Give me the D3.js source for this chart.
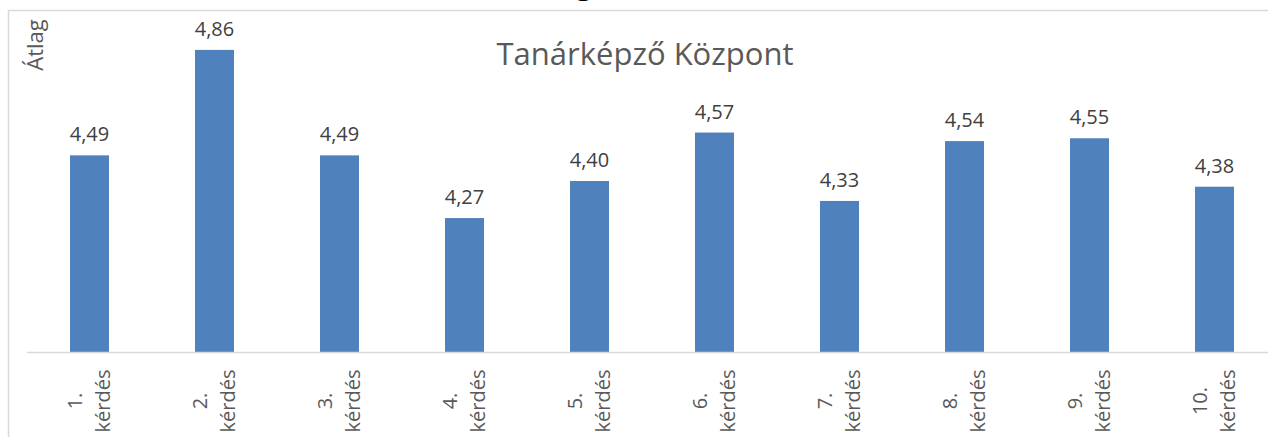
<!DOCTYPE html>
<html lang="hu">

<head>
    <meta charset="UTF-8" />
    <title>Tanárképző Központ - átlag</title>
    <script src="https://d3js.org/d3.v7.min.js"></script>
    <style>
        body { margin: 0; background: #fff; }
        text { font-family: "Open Sans", sans-serif; }
    </style>
</head>

<body>
    <script>
        // chart data
        var categories = ["1. kérdés", "2. kérdés", "3. kérdés", "4. kérdés", "5. kérdés",
            "6. kérdés", "7. kérdés", "8. kérdés", "9. kérdés", "10. kérdés"];
        var values = [4.49, 4.86, 4.49, 4.27, 4.40, 4.57, 4.33, 4.54, 4.55, 4.38];
        var yDomain = [3.8, 5.0];

        var w = 1268;
        var h = 437;
        var baseY = 352;

        var svg = d3.select("body")
            .append("svg")
            .attr("width", w)
            .attr("height", h);

        // tail of the heading cut off above the chart
        svg.append("text")
            .attr("x", 584)
            .attr("y", -6)
            .attr("text-anchor", "middle")
            .attr("font-size", "30px")
            .attr("fill", "#000")
            .text("g");

        // chart frame
        svg.append("rect")
            .attr("x", 8.5)
            .attr("y", 10.5)
            .attr("width", 1300)
            .attr("height", 500)
            .attr("fill", "none")
            .attr("stroke", "#d9d9d9")
            .attr("stroke-width", 1.5);

        var xScale = d3.scaleBand()
            .domain(categories)
            .range([27, 1277])
            .paddingInner(0.688)
            .paddingOuter(0.344);

        var yScale = d3.scaleLinear()
            .domain(yDomain)
            .range([baseY, 10]);

        var fmt = function (v) { return d3.format(".2f")(v).replace(".", ","); };

        svg.selectAll("rect.bar")
            .data(values)
            .enter()
            .append("rect")
            .attr("class", "bar")
            .attr("x", function (d, i) { return xScale(categories[i]); })
            .attr("y", function (d) { return yScale(d); })
            .attr("width", xScale.bandwidth())
            .attr("height", function (d) { return baseY - yScale(d); })
            .attr("fill", "#4f81bd");

        svg.selectAll("text.val")
            .data(values)
            .enter()
            .append("text")
            .attr("class", "val")
            .attr("x", function (d, i) { return xScale(categories[i]) + xScale.bandwidth() / 2; })
            .attr("y", function (d) { return yScale(d) - 14; })
            .attr("text-anchor", "middle")
            .attr("font-size", "20px")
            .attr("fill", "#404040")
            .text(fmt);

        var xAxis = d3.axisBottom(xScale).tickSize(0).tickSizeOuter(0);

        var gx = svg.append("g")
            .attr("class", "x axis")
            .attr("transform", "translate(0," + baseY + ")")
            .call(xAxis);

        gx.select(".domain")
            .attr("stroke", "#d9d9d9")
            .attr("stroke-width", 1.5)
            .attr("d", "M27,0.5H" + w);

        gx.selectAll(".tick text").each(function (d) {
            var parts = d.split(" ");
            var t = d3.select(this)
                .text(null)
                .attr("transform", "rotate(-90)")
                .attr("y", 0)
                .attr("dy", null)
                .attr("text-anchor", "middle")
                .style("font-size", "20px")
                .style("font-family", "'Open Sans', sans-serif")
                .attr("fill", "#595959");
            t.append("tspan").attr("x", -49).attr("y", -7.5).text(parts[0]);
            t.append("tspan").attr("x", -49).attr("y", 20.5).text(parts[1]);
        });

        // y axis title
        svg.append("text")
            .attr("transform", "translate(43,45) rotate(-90)")
            .attr("text-anchor", "middle")
            .attr("font-size", "22px")
            .attr("fill", "#595959")
            .text("Átlag");

        // chart title
        svg.append("text")
            .attr("x", 645)
            .attr("y", 65)
            .attr("text-anchor", "middle")
            .attr("font-size", "31px")
            .attr("fill", "#595959")
            .text("Tanárképző Központ");
    </script>
</body>

</html>
